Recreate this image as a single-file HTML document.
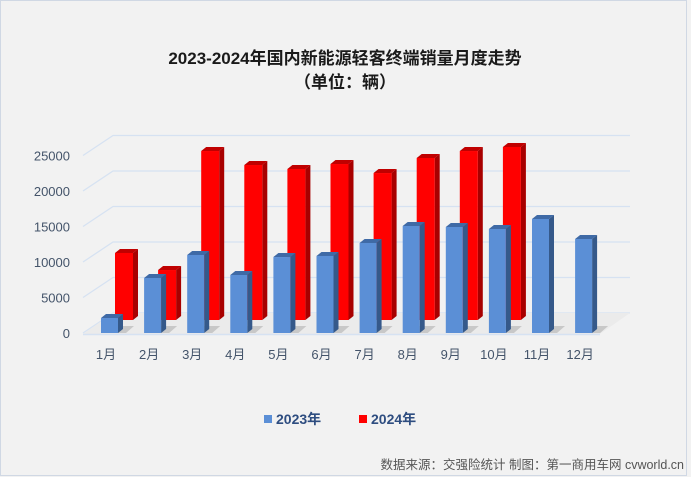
<!DOCTYPE html>
<html><head><meta charset="utf-8"><style>
html,body{margin:0;padding:0;background:#f2f2f2;}
body{width:691px;height:477px;overflow:hidden;position:relative;font-family:"Liberation Sans","Noto Sans CJK SC",sans-serif;}
svg{position:absolute;left:0;top:0;}
</style></head><body>
<svg id="chart" width="691" height="477" viewBox="0 0 691 477" xmlns="http://www.w3.org/2000/svg">
<rect x="0.5" y="0.5" width="686" height="475" fill="#f2f2f2" stroke="#d0d8e4"/>
<text x="345" y="64" text-anchor="middle" font-size="17" font-weight="bold" fill="#1a1a1a">2023-2024年国内新能源轻客终端销量月度走势</text>
<text x="345" y="88" text-anchor="middle" font-size="17" font-weight="bold" fill="#1a1a1a">（单位：辆）</text>
<g id="grid"></g><g id="floor"></g><g id="bars"></g><g id="labels"></g>
<g>
<rect x="264" y="415" width="8" height="8" fill="#5b8fd6"/>
<text x="276" y="424" font-size="14" font-weight="bold" fill="#2e4d80">2023年</text>
<rect x="359" y="415" width="8" height="8" fill="#ff0000"/>
<text x="371" y="424" font-size="14" font-weight="bold" fill="#2e4d80">2024年</text>
</g>
<text x="684" y="469" text-anchor="end" font-size="12.5" fill="#555">数据来源：交强险统计 制图：第一商用车网 cvworld.cn</text>
</svg>
<script>
const months=["1月","2月","3月","4月","5月","6月","7月","8月","9月","10月","11月","12月"];
const sales2023=[2110,7750,10990,8170,10700,10850,12680,15070,14930,14650,16060,13240];
const sales2024=[9440,7040,23800,21830,21270,21970,20700,22820,23800,24370];
const yTicks=[0,5000,10000,15000,20000,25000];
const NS="http://www.w3.org/2000/svg";
const PX=35.5/5000;
function yFront(v){return 333-v*PX;}
function yBack(v){return 320-v*PX;}
function yWall(v){return 313-v*PX;}
function xBlue(i){return 101+43.1*i;}
function xRed(i){return 115+43.1*i;}
function mk(tag,attrs,parent){const e=document.createElementNS(NS,tag);for(const k in attrs)e.setAttribute(k,attrs[k]);parent.appendChild(e);return e;}
const grid=document.getElementById('grid'),floor=document.getElementById('floor'),bars=document.getElementById('bars'),labels=document.getElementById('labels');
yTicks.forEach(t=>{
 const yw=yWall(t),yf=yFront(t)+1;
 const l=mk('polyline',{points:`83,${yf-1+ (t===0?0:0)} 113,${yw} 630,${yw}`,fill:'none',stroke:'#d6e2f2','stroke-width':1.3},grid);
 
 
 const tx=mk('text',{x:70,y:yFront(t)+5,'text-anchor':'end','font-size':13,fill:'#44546a'},grid);
 tx.textContent=t;
 
 
});
const fl=mk('polygon',{points:'83,334 113,313 630,313 600,334',fill:'#ebebeb'},floor);


const fe=mk('line',{x1:83,y1:334.5,x2:600,y2:334.5,stroke:'#d6e2f2','stroke-width':1.5},floor);


months.forEach((m,i)=>{
 const s=mk('polygon',{points:`${xBlue(i)},333 ${xBlue(i)+8},326 ${xBlue(i)+33},326 ${xBlue(i)+25},333`,fill:'#c8c8c8'},floor);
 
 
});
function bar3d(x,base,top,w,front,side,topc,name){
 const g=mk('g',{},bars);
 
 
 const d=5,dy=4;
 mk('polygon',{points:`${x+w},${base} ${x+w+d},${base-dy} ${x+w+d},${top-dy} ${x+w},${top}`,fill:side},g);
 mk('polygon',{points:`${x},${top} ${x+d},${top-dy} ${x+w+d},${top-dy} ${x+w},${top}`,fill:topc},g);
 mk('rect',{x:x,y:top,width:w,height:base-top,fill:front},g);
}
sales2024.forEach((v,i)=>bar3d(xRed(i),320,yBack(v),18,'#ff0000','#a80000','#c00000','bar-2024-'+(i+1)));
sales2023.forEach((v,i)=>bar3d(xBlue(i),333,yFront(v),17,'#5b8fd6','#35598a','#3f6aa6','bar-2023-'+(i+1)));
months.forEach((m,i)=>{
 const t=mk('text',{x:xBlue(i)+5,y:359,'text-anchor':'middle','font-size':13,fill:'#44546a'},labels);
 t.textContent=m;
 
 
});
</script>
</body></html>
